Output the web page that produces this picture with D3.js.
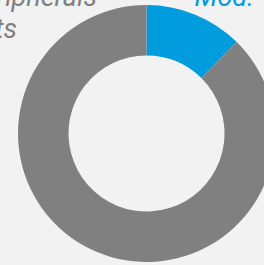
<!DOCTYPE html>
<html>
<head>
<meta charset="utf-8">
<script src="https://cdn.jsdelivr.net/npm/d3@7"></script>
<style>
  html, body { margin: 0; padding: 0; background: #f2f2f2; overflow: hidden; }
  text { font-family: Roboto, "Noto Sans", sans-serif; font-style: italic; }
</style>
</head>
<body>
<div id="chart"></div>
<script>
// Slice data (share of the whole, clockwise from 12 o'clock)
const categories = ["Mod.", "Other"];
const values = [12.4, 87.6];
const colors = ["#009cde", "#808080"];

// Label lines seen at the top of the picture
const leftLabelLines = ["Peripherals", "Kits"];
const rightLabel = "Mod.";

const width = 264, height = 265;
const cx = 146.5, cy = 133.5;
const outerR = 128.5, innerR = 78;

const svg = d3.select("#chart")
  .append("svg")
    .attr("width", width)
    .attr("height", height)
    .style("background", "#f2f2f2");

const data = categories.map((c, i) => ({ name: c, value: values[i], color: colors[i] }));

const pie = d3.pie()
  .value(d => d.value)
  .sort(null);

const arc = d3.arc()
  .innerRadius(innerR)
  .outerRadius(outerR);

const g = svg.append("g")
  .attr("transform", `translate(${cx},${cy})`);

g.selectAll("path")
  .data(pie(data))
  .enter()
  .append("path")
    .attr("d", arc)
    .attr("fill", d => d.data.color);

// Labels (partly cut by the top edge)
svg.append("text")
  .attr("x", 97)
  .attr("y", 6)
  .attr("text-anchor", "end")
  .attr("fill", "#808080")
  .style("font-size", "27px")
  .text(leftLabelLines[0]);

svg.append("text")
  .attr("x", 17)
  .attr("y", 38)
  .attr("text-anchor", "end")
  .attr("fill", "#808080")
  .style("font-size", "27px")
  .text(leftLabelLines[1]);

svg.append("text")
  .attr("x", 254)
  .attr("y", 6)
  .attr("text-anchor", "end")
  .attr("fill", "#009cde")
  .style("font-size", "27px")
  .text(rightLabel);
</script>
</body>
</html>
